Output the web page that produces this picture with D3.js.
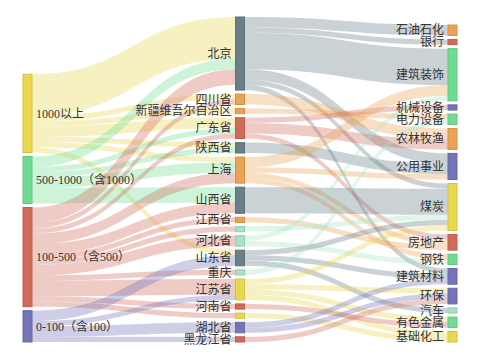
<!DOCTYPE html>
<html>
<head>
<meta charset="utf-8">
<script src="https://cdn.jsdelivr.net/npm/d3@7"></script>
<style>
  body { margin: 0; background: #fff; }
  text { font-family: "Liberation Serif", "Noto Sans CJK SC", serif; font-size: 12px; fill: #333; }
</style>
</head>
<body>
<div id="chart"></div>
<script>
// columns of the sankey
const amountNames = ["1000以上", "500-1000（含1000）", "100-500（含500）", "0-100（含100）"];
const provinceNames = ["北京", "四川省", "新疆维吾尔自治区", "广东省", "陕西省", "上海", "山西省", "江西省", "未标注A",
  "河北省", "山东省", "重庆", "江苏省", "河南省", "未标注B", "湖北省", "黑龙江省"];
const industryNames = ["石油石化", "银行", "建筑装饰", "机械设备", "电力设备", "农林牧渔", "公用事业", "煤炭",
  "房地产", "钢铁", "建筑材料", "环保", "汽车", "有色金属", "基础化工"];
// nodes drawn without a label in the picture
const hiddenLabels = ["未标注A", "未标注B"];

// amount -> province
const amountLinks = [
  ["1000以上", "北京", 8], ["1000以上", "四川省", 1], ["1000以上", "新疆维吾尔自治区", 1], ["1000以上", "广东省", 2],
  ["1000以上", "陕西省", 1], ["1000以上", "上海", 1], ["1000以上", "山东省", 1],
  ["500-1000（含1000）", "北京", 2], ["500-1000（含1000）", "广东省", 1], ["500-1000（含1000）", "陕西省", 1],
  ["500-1000（含1000）", "上海", 2], ["500-1000（含1000）", "山西省", 3],
  ["100-500（含500）", "北京", 3], ["100-500（含500）", "四川省", 1], ["100-500（含500）", "广东省", 1],
  ["100-500（含500）", "上海", 2], ["100-500（含500）", "山西省", 2], ["100-500（含500）", "江西省", 1],
  ["100-500（含500）", "未标注A", 1], ["100-500（含500）", "河北省", 2], ["100-500（含500）", "重庆", 1],
  ["100-500（含500）", "江苏省", 3], ["100-500（含500）", "河南省", 1], ["100-500（含500）", "未标注B", 1],
  ["0-100（含100）", "山东省", 2], ["0-100（含100）", "江苏省", 1], ["0-100（含100）", "湖北省", 2],
  ["0-100（含100）", "黑龙江省", 1]
];

// province -> industry
const industryLinks = [
  ["北京", "石油石化", 2], ["北京", "银行", 1], ["北京", "建筑装饰", 7], ["北京", "公用事业", 2],
  ["北京", "煤炭", 1], ["北京", "建筑材料", 1],
  ["四川省", "农林牧渔", 2],
  ["新疆维吾尔自治区", "电力设备", 1],
  ["广东省", "机械设备", 1], ["广东省", "农林牧渔", 2], ["广东省", "房地产", 1],
  ["陕西省", "公用事业", 2],
  ["上海", "建筑装饰", 2], ["上海", "公用事业", 1], ["上海", "房地产", 1], ["上海", "钢铁", 1],
  ["山西省", "煤炭", 5],
  ["江西省", "房地产", 1],
  ["未标注A", "煤炭", 1],
  ["河北省", "建筑装饰", 1], ["河北省", "钢铁", 1],
  ["山东省", "煤炭", 1], ["山东省", "建筑材料", 1], ["山东省", "汽车", 1],
  ["重庆", "电力设备", 1],
  ["江苏省", "煤炭", 1], ["江苏省", "环保", 1], ["江苏省", "有色金属", 1], ["江苏省", "基础化工", 1],
  ["河南省", "有色金属", 1],
  ["未标注B", "基础化工", 1],
  ["湖北省", "建筑材料", 1], ["湖北省", "环保", 1],
  ["黑龙江省", "环保", 1]
];

// node colours
const C = {
  yellow: "#e9d84f", green: "#6fdc91", red: "#d06b5b", purple: "#7474b8",
  slate: "#6a7f87", orange: "#eba255", mint: "#a5e4c7"
};
const nodeColor = {
  "1000以上": C.yellow, "500-1000（含1000）": C.green, "100-500（含500）": C.red, "0-100（含100）": C.purple,
  "北京": C.slate, "四川省": C.orange, "新疆维吾尔自治区": C.orange, "广东省": C.red, "陕西省": C.slate,
  "上海": C.orange, "山西省": C.slate, "江西省": C.orange, "未标注A": C.mint, "河北省": C.mint,
  "山东省": C.slate, "重庆": C.mint, "江苏省": C.yellow, "河南省": C.red, "未标注B": C.yellow,
  "湖北省": C.purple, "黑龙江省": C.red,
  "石油石化": C.orange, "银行": C.red, "建筑装饰": C.green, "机械设备": C.purple, "电力设备": C.green,
  "农林牧渔": C.orange, "公用事业": C.purple, "煤炭": C.yellow, "房地产": C.red, "钢铁": C.green,
  "建筑材料": C.purple, "环保": C.purple, "汽车": C.mint, "有色金属": C.green, "基础化工": C.yellow
};

const width = 480, height = 360;
const margin = { top: 17, bottom: 18, left: 23, right: 23 };
const nodeWidth = 9, nodeGap = 4;

const svg = d3.select("#chart").append("svg")
  .attr("width", width)
  .attr("height", height);

// build the graph
const columns = [amountNames, provinceNames, industryNames];
const nodes = new Map();
columns.forEach((col, i) => col.forEach((name, j) => {
  nodes.set(name, { name, col: i, order: j, ins: [], outs: [] });
}));
const links = amountLinks.concat(industryLinks).map(([s, t, v]) => {
  const l = { source: nodes.get(s), target: nodes.get(t), value: v };
  l.source.outs.push(l);
  l.target.ins.push(l);
  return l;
});
nodes.forEach(n => {
  n.value = Math.max(d3.sum(n.ins, l => l.value), d3.sum(n.outs, l => l.value));
});

// vertical scale from the busiest column
const innerH = height - margin.top - margin.bottom;
const ky = d3.min(columns, col =>
  (innerH - (col.length - 1) * nodeGap) / d3.sum(col, name => nodes.get(name).value));
const yScale = d3.scaleLinear().domain([0, 1]).range([0, ky]);
const xScale = d3.scaleLinear().domain([0, columns.length - 1])
  .range([margin.left, width - margin.right - nodeWidth]);

// stack each column, aligned to the bottom
columns.forEach(col => {
  const total = d3.sum(col, name => yScale(nodes.get(name).value)) + (col.length - 1) * nodeGap;
  let y = height - margin.bottom - total;
  col.forEach(name => {
    const n = nodes.get(name);
    n.x0 = xScale(n.col);
    n.x1 = n.x0 + nodeWidth;
    n.y0 = y;
    n.y1 = y + yScale(n.value);
    y = n.y1 + nodeGap;
  });
});

// link offsets at both ends
nodes.forEach(n => {
  let sy = n.y0;
  n.outs.slice().sort((a, b) => a.target.y0 - b.target.y0).forEach(l => {
    l.sy = sy; sy += yScale(l.value);
  });
  let ty = n.y0;
  n.ins.slice().sort((a, b) => a.source.y0 - b.source.y0).forEach(l => {
    l.ty = ty; ty += yScale(l.value);
  });
});

function bandPath(l) {
  const x0 = l.source.x1, x1 = l.target.x0, xm = (x0 + x1) / 2;
  const w = yScale(l.value);
  const p = d3.path();
  p.moveTo(x0, l.sy);
  p.bezierCurveTo(xm, l.sy, xm, l.ty, x1, l.ty);
  p.lineTo(x1, l.ty + w);
  p.bezierCurveTo(xm, l.ty + w, xm, l.sy + w, x0, l.sy + w);
  p.closePath();
  return p.toString();
}

svg.append("g")
  .selectAll("path")
  .data(links)
  .enter().append("path")
  .attr("d", bandPath)
  .attr("fill", d => nodeColor[d.source.name])
  .attr("fill-opacity", 0.35);

const nodeList = Array.from(nodes.values());

svg.append("g")
  .selectAll("rect")
  .data(nodeList)
  .enter().append("rect")
  .attr("x", d => d.x0)
  .attr("y", d => d.y0)
  .attr("width", nodeWidth)
  .attr("height", d => d.y1 - d.y0)
  .attr("fill", d => nodeColor[d.name])
  .attr("stroke", d => d3.color(nodeColor[d.name]).darker(0.3))
  .attr("stroke-width", 1);

svg.append("g")
  .selectAll("text")
  .data(nodeList.filter(d => !hiddenLabels.includes(d.name)))
  .enter().append("text")
  .attr("x", d => d.col === 0 ? d.x1 + 4 : d.x0 - 4)
  .attr("y", d => (d.y0 + d.y1) / 2)
  .attr("dy", "0.35em")
  .attr("text-anchor", d => d.col === 0 ? "start" : "end")
  .text(d => d.name);
</script>
</body>
</html>
